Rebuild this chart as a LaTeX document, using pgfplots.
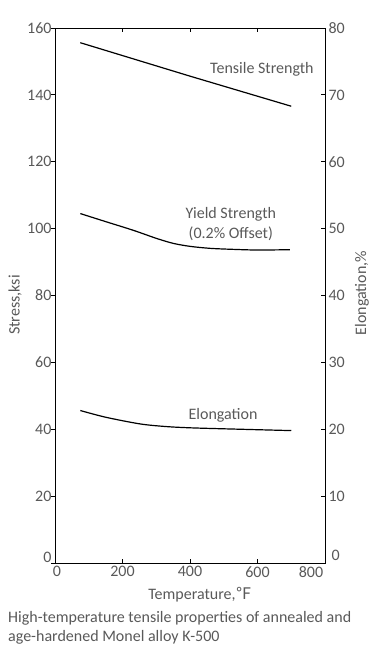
\documentclass[border=0pt]{standalone}
\usepackage{fontspec}
\setmainfont{Carlito}
\newfontfamily\cjk{Noto Sans CJK SC}
\usepackage{pgfplots}
\pgfplotsset{compat=1.18}
\definecolor{txt}{HTML}{595959}
\newcommand\fs{\fontsize{16}{19}\selectfont}

\begin{document}
\begin{tikzpicture}[x=1pt,y=1pt]
\path[use as bounding box] (0,0) rectangle (381,-653);
\begin{axis}[
  at={(55pt,-563pt)}, anchor=south west,
  width=270pt, height=535pt, scale only axis,
  xmin=0, xmax=800, ymin=0, ymax=160,
  xtick={0,200,...,800},
  xticklabels={{\makebox[0pt]{\hspace*{4pt}0}},200,400,600,{\makebox[0pt]{800\hspace*{28pt}}}},
  ytick={20,40,...,160},
  extra y ticks={0}, extra y tick style={yticklabel style={yshift=6pt}},
  tick align=inside, major tick length=4pt,
  xtick pos=both, ytick pos=left,
  xticklabel pos=left,
  ytick style={xshift=-4pt},
  axis line style={black, line width=0.9pt},
  tick style={black, line width=0.9pt},
  ticklabel style={font=\fs, text=txt},
  /pgf/number format/assume math mode=true,
  clip=false,
]
\addplot[black, line width=1.2pt] coordinates {(75,155.6) (400,145.6) (700,136.6)};
\addplot[black, line width=1.2pt, smooth, tension=0.5] coordinates {(75,104.5) (150,102.1) (232,99.5) (300,97.1) (350,95.6) (400,94.7) (460,94.1) (528,93.8) (600,93.6) (696,93.7)};
\node[font=\fs, text=txt] at (axis cs:613,147.7) {Tensile Strength};
\node[font=\fontsize{16}{20}\selectfont, text=txt, align=center] at (axis cs:521,101.5) {Yield Strength\\(0.2\% Offset)};
\node[font=\fs, text=txt] at (axis cs:498,44.3) {Elongation};
\end{axis}
\begin{axis}[
  at={(55pt,-563pt)}, anchor=south west,
  width=270pt, height=535pt, scale only axis,
  xmin=0, xmax=800, ymin=0, ymax=80,
  axis x line=none, axis y line*=right,
  ytick={10,20,...,80},
  extra y ticks={0}, extra y tick style={yticklabel style={yshift=8pt, xshift=3pt}},
  tick align=inside, major tick length=4pt,
  axis line style={black, line width=0.9pt},
  tick style={black, line width=0.9pt},
  ticklabel style={font=\fs, text=txt},
  /pgf/number format/assume math mode=true,
  clip=false,
]
\addplot[black, line width=1.2pt, smooth, tension=0.5] coordinates {(75,22.8) (150,21.8) (252,20.8) (330,20.4) (409,20.2) (550,20.0) (700,19.8)};
\end{axis}
\node[font=\fs, text=txt, rotate=90] at (15,-305) {Stress,ksi};
\node[font=\fs, text=txt, rotate=90] at (362,-293) {Elongation,\%};
\node[font=\fs, text=txt] at (200,-595) {Temperature,{\cjk ℉}};
\node[font=\fs, text=txt, anchor=west, inner sep=0pt] at (8,-618) {High-temperature tensile properties of annealed and};
\node[font=\fs, text=txt, anchor=west, inner sep=0pt] at (8,-637) {age-hardened Monel alloy K-500};
\end{tikzpicture}
\end{document}
